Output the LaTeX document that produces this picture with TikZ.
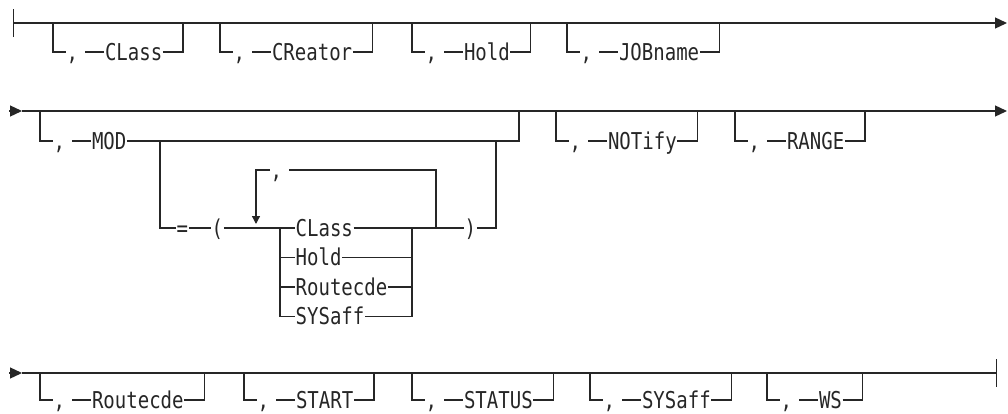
\documentclass[tikz,border=0pt]{standalone}
\usepackage{fontspec}
\newfontfamily\kwfont[FakeStretch=0.82]{DejaVu Sans Mono}
\usetikzlibrary{arrows.meta, positioning}

% optional keyword: #1 name, #2 left x, #3 main line y, #4 branch y, #5 keyword
\newcommand\optbox[5]{%
  \coordinate (#1in) at (#2,#3);
  \coordinate (#1dn) at (#2,#4);
  \node[kw] (#1sep) at ([xshift=6.5pt]#1dn) {,};
  \node[kw, right=12.8pt of #1sep] (#1) {#5};
  \coordinate (#1up) at ([xshift=10pt]#1.east);
  \draw (#1in) -- (#1dn) -- (#1sep.west);
  \draw ([xshift=3.2pt]#1sep.east) -- (#1.west);
  \draw (#1.east) -- (#1up) -- (#1up |- #1in);
}

\begin{document}
\begin{tikzpicture}[x=0.5pt, y=-0.5pt, line width=0.65pt, color=black!85,
  kw/.style={font=\kwfont\fontsize{11.6}{13}\selectfont, inner sep=0pt,
    text height=8.4pt, text depth=0pt, anchor=west},
  endtip/.style={-{Triangle[length=6pt, width=5.5pt]}},
  looptip/.style={-{Triangle[length=4pt, width=4pt]}}]
  \useasboundingbox (0,0) rectangle (1008,413);

  % first row
  \coordinate (r1a) at (13,23);
  \coordinate (r1b) at (1007,23);
  \draw[{Bar[width=14pt]}-{Triangle[length=6pt, width=5.5pt]}] (r1a) -- (r1b);
  \optbox{cls}{53}{23}{52}{CLass}
  \optbox{crt}{220}{23}{52}{CReator}
  \optbox{hld}{412}{23}{52}{Hold}
  \optbox{job}{567}{23}{52}{JOBname}

  % second row
  \coordinate (r2a) at (9,111);
  \coordinate (r2b) at (22,111);
  \coordinate (r2c) at (1007,111);
  \draw[endtip] (r2a) -- (r2b);
  \draw[endtip] (r2b) -- (r2c);

  % MOD with optional list
  \coordinate (modin) at (40,111);
  \coordinate (moddn) at (40,141);
  \node[kw] (modsep) at ([xshift=6.5pt]moddn) {,};
  \node[kw, right=12.8pt of modsep] (mod) {MOD};
  \coordinate (modup) at (519,141);
  \draw (modin) -- (moddn) -- (modsep.west);
  \draw ([xshift=3.2pt]modsep.east) -- (mod.west);
  \draw (mod.east) -- (modup) -- (modup |- modin);

  \coordinate (eqtop) at (160,141);
  \coordinate (eqdn) at (160,228);
  \node[kw] (eq) at (176,228) {=};
  \node[kw] (lp) at (211,228) {(};
  \draw (eqtop) -- (eqdn) -- (eq.west);
  \draw (eq.east) -- (lp.west);

  % choice
  \coordinate (chlt) at (280,228);
  \coordinate (chlb) at (280,316.5);
  \coordinate (chrt) at (412,228);
  \coordinate (chrb) at (412,316.5);
  \node[kw] (c1) at (295,228) {CLass};
  \node[kw] (c2) at (295,257.5) {Hold};
  \node[kw] (c3) at (295,287) {Routecde};
  \node[kw] (c4) at (295,316.5) {SYSaff};
  \draw (lp.east) -- (c1.west);
  \draw (chlt) -- (chlb) -- (c4.west);
  \draw (c2.west -| chlt) -- (c2.west);
  \draw (c3.west -| chlt) -- (c3.west);
  \draw (c1.east) -- (chrt) -- (chrb) -- (c4.east);
  \draw (c2.east) -- (c2.east -| chrt);
  \draw (c3.east) -- (c3.east -| chrt);

  % repeat loop
  \coordinate (lprb) at (436,228);
  \coordinate (lprt) at (436,170);
  \coordinate (lplt) at (256,170);
  \coordinate (lpdn) at (256,224);
  \node[kw] (rep) at (270,170) {,};
  \draw (lprb) -- (lprt) -- ([xshift=3.2pt]rep.east);
  \draw[looptip] (rep.west) -- (lplt) -- (lpdn);

  \node[kw] (rp) at (464,228) {)};
  \coordinate (rpup) at (496,228);
  \draw (chrt) -- (rp.west);
  \draw (rp.east) -- (rpup) -- (rpup |- modup);

  \optbox{ntf}{556}{111}{141}{NOTify}
  \optbox{rng}{735}{111}{141}{RANGE}

  % third row
  \coordinate (r3a) at (9,373);
  \coordinate (r3b) at (22,373);
  \coordinate (r3c) at (997,373);
  \draw[endtip] (r3a) -- (r3b);
  \draw[-{Bar[width=14pt]}] (r3b) -- (r3c);
  \optbox{rtc}{40}{373}{400}{Routecde}
  \optbox{sta}{244}{373}{400}{START}
  \optbox{sts}{412}{373}{400}{STATUS}
  \optbox{sys}{590}{373}{400}{SYSaff}
  \optbox{ws}{767}{373}{400}{WS}
\end{tikzpicture}
\end{document}
